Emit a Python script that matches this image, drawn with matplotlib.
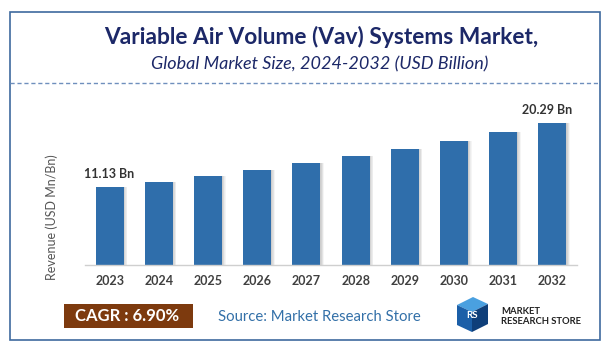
import matplotlib
matplotlib.use("Agg")
import matplotlib.pyplot as plt
from matplotlib.patches import Rectangle, Polygon
from matplotlib.lines import Line2D

# data
years = ["2023", "2024", "2025", "2026", "2027", "2028", "2029", "2030", "2031", "2032"]
revenue = [11.13, 11.90, 12.72, 13.60, 14.53, 15.53, 16.61, 17.75, 18.98, 20.29]
first_label = "11.13 Bn"
last_label = "20.29 Bn"

title = "Variable Air Volume (Vav) Systems Market,"
subtitle = "Global Market Size, 2024-2032 (USD Billion)"
y_label = "Revenue (USD Mn/Bn)"
cagr_text = "CAGR : 6.90%"
source_text = "Source: Market Research Store"

W, H = 610, 356
fig = plt.figure(figsize=(W / 100, H / 100), dpi=100)
fig.patch.set_facecolor("white")

def fx(px):
    return px / W

def fy(py):
    return 1 - py / H

font = ["Lato", "DejaVu Sans"]

# outer frame and dashed divider
fig.add_artist(Rectangle((fx(10), fy(340)), fx(590), (340 - 12) / H, transform=fig.transFigure,
                         fill=False, edgecolor="#3e6a9e", lw=1.2))
fig.add_artist(Line2D([fx(10), fx(600)], [fy(83), fy(83)], transform=fig.transFigure,
                      color="#6f8fbd", lw=1.0, ls=(0, (3, 2))))

fig.text(fx(321), fy(37), title, ha="center", va="center", fontsize=16.4, fontweight="bold",
         color="#1c2868", family=font)
fig.text(fx(320), fy(64), subtitle, ha="center", va="center", fontsize=13, style="italic",
         color="#1c2868", family=font)

# bar chart
ax = fig.add_axes([fx(85), fy(265), fx(492), 155 / H])
x = list(range(len(years)))
bw = 0.57
# soft shadow on the right of each bar
for k in range(1, 7):
    ax.bar([i + 0.012 * k for i in x], revenue, width=bw, color="#7a7a7a", alpha=0.07, zorder=1)
ax.bar(x, revenue, width=bw, color="#2f6eab", zorder=2)
ax.set_xlim(-0.5, len(years) - 0.5)
ax.set_ylim(0, 22.1)
ax.set_xticks(x)
ax.set_xticklabels(years, fontsize=9, fontweight="bold", color="#404040", family=font)
ax.tick_params(axis="x", length=0, pad=7)
ax.set_yticks([])
for s in ["top", "right", "left"]:
    ax.spines[s].set_visible(False)
ax.spines["bottom"].set_color("#cfcfcf")
ax.spines["bottom"].set_linewidth(1.0)
ax.set_facecolor("none")

ax.text(x[0], revenue[0] + 1.0, first_label, ha="center", va="bottom", fontsize=9,
        fontweight="bold", color="#333333", family=font)
ax.text(x[-1] - 0.1, revenue[-1] + 1.0, last_label, ha="center", va="bottom", fontsize=9,
        fontweight="bold", color="#333333", family=font)

fig.text(fx(52), fy(217), y_label, rotation=90, ha="center", va="center", fontsize=9,
         color="#555555", family=font)

# footer
fig.add_artist(Rectangle((fx(64), fy(328)), fx(129), 24 / H, transform=fig.transFigure,
                         facecolor="#7d3a0e", edgecolor="none"))
fig.text(fx(127), fy(316), cagr_text, ha="center", va="center", fontsize=12, fontweight="bold",
         color="white", family=font)
fig.text(fx(218), fy(317), source_text, ha="left", va="center", fontsize=10.7,
         color="#3370a8", family=font)

# rough logo mark
def poly(pts, color):
    fig.add_artist(Polygon([(fx(a), fy(b)) for a, b in pts], closed=True, transform=fig.transFigure,
                           facecolor=color, edgecolor="none"))

poly([(457, 305), (473, 297), (488, 304), (472, 312)], "#4aa0e0")
poly([(457, 305), (472, 312), (472, 332), (457, 325)], "#1b5fa8")
poly([(472, 312), (488, 304), (488, 324), (472, 332)], "#0f3f7a")
fig.text(fx(472), fy(316), "RS", ha="center", va="center", fontsize=7, fontweight="bold",
         color="white", family=font)
fig.text(fx(501), fy(311), "MARKET", ha="left", va="center", fontsize=6.8, fontweight="bold",
         color="#222222", family=font)
fig.text(fx(501), fy(321), "RESEARCH STORE", ha="left", va="center", fontsize=6.8, fontweight="bold",
         color="#222222", family=font)

fig.savefig("out.png", dpi=100)
